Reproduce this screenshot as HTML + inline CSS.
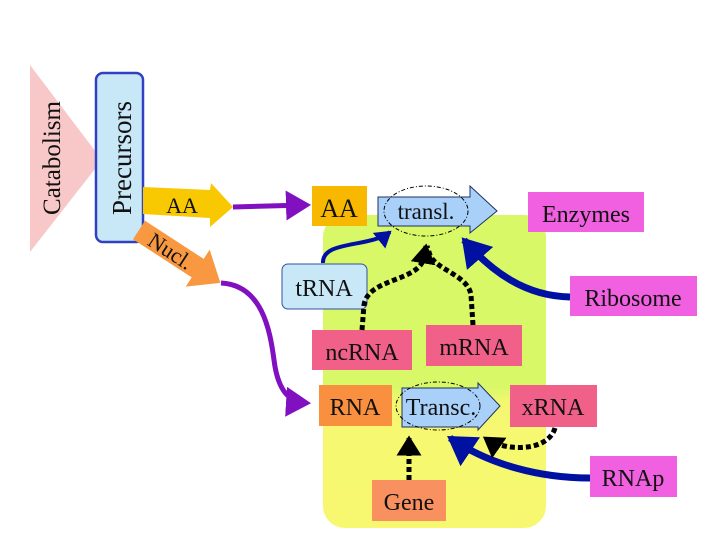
<!DOCTYPE html>
<html><head><style>
body{margin:0;width:720px;height:540px;background:#fff;overflow:hidden}
svg text{font-family:"Liberation Serif",serif;fill:#111}
</style></head><body>
<svg width="720" height="540" viewBox="0 0 720 540" xmlns="http://www.w3.org/2000/svg">
<defs>
<linearGradient id="g" x1="0" y1="0" x2="0" y2="1">
<stop offset="0" stop-color="#d8f868"/><stop offset="0.55" stop-color="#d8f868"/>
<stop offset="0.6" stop-color="#f4f870"/><stop offset="1" stop-color="#f8f870"/>
</linearGradient>
<marker id="pa" markerWidth="6" markerHeight="6" refX="4" refY="3" orient="auto" markerUnits="strokeWidth"><path d="M0,0 L5,3 L0,6z" fill="#8010c0"/></marker>
<marker id="ba" markerWidth="5" markerHeight="5" refX="3.5" refY="2.5" orient="auto" markerUnits="strokeWidth"><path d="M0,0 L4,2.5 L0,5z" fill="#0010a0"/></marker>
<marker id="ka" markerWidth="5" markerHeight="5" refX="3.5" refY="2.5" orient="auto" markerUnits="strokeWidth"><path d="M0,0 L4,2.5 L0,5z" fill="#000"/></marker>
</defs>
<rect x="323" y="215" width="223" height="313" rx="22" fill="url(#g)"/>
<polygon points="30,65 30,252 102,160" fill="#f8c8c8"/>
<text transform="translate(60,158) rotate(-90)" font-size="25" text-anchor="middle">Catabolism</text>
<rect x="96" y="73" width="47" height="169" rx="7" fill="#c8e8f8" stroke="#3040c0" stroke-width="2.5"/>
<text transform="translate(131,158) rotate(-90)" font-size="27" text-anchor="middle">Precursors</text>
<polygon points="143,187 210,190 211,183 233,207 210,227 210,218 143,214" fill="#f8c800"/>
<text x="182" y="213" font-size="22" text-anchor="middle">AA</text>
<g transform="translate(139,230) rotate(33)">
<polygon points="0,-11 70,-11 70,-22 97,0 70,22 70,11 0,11" fill="#f89840"/>
<text x="38" y="8" font-size="22" text-anchor="middle">Nucl.</text>
</g>
<path d="M233,207 L306,205" stroke="#8010c0" stroke-width="5" fill="none" marker-end="url(#pa)"/>
<path d="M221,283 C262,285 270,330 274,360 C278,392 290,402 306,403" stroke="#8010c0" stroke-width="5" fill="none" marker-end="url(#pa)"/>
<rect x="312" y="186" width="55" height="40" fill="#f8b800"/>
<text x="339" y="217" font-size="26" text-anchor="middle">AA</text>
<polygon points="378,197 470,197 470,186 497,211 470,233 470,226 378,226" fill="#a8d0f8" stroke="#203060" stroke-width="1"/>
<ellipse cx="426" cy="211" rx="42" ry="25" fill="none" stroke="#000" stroke-width="1" stroke-dasharray="4,2,1,2"/>
<text x="426" y="219" font-size="23" text-anchor="middle">transl.</text>
<rect x="528" y="192" width="116" height="40" fill="#f060e0"/>
<text x="586" y="222" font-size="24" text-anchor="middle">Enzymes</text>
<rect x="282" y="264" width="85" height="45" rx="6" fill="#c8e8f8" stroke="#3050a0" stroke-width="1"/>
<text x="324" y="296" font-size="24" text-anchor="middle">tRNA</text>
<rect x="570" y="276" width="127" height="40" fill="#f060e0"/>
<text x="633" y="306" font-size="24" text-anchor="middle">Ribosome</text>
<rect x="312" y="330" width="100" height="40" fill="#f06088"/>
<text x="362" y="360" font-size="24" text-anchor="middle">ncRNA</text>
<rect x="426" y="325" width="96" height="41" fill="#f06088"/>
<text x="474" y="355" font-size="24" text-anchor="middle">mRNA</text>
<rect x="319" y="385" width="73" height="41" fill="#f89040"/>
<text x="355" y="415" font-size="24" text-anchor="middle">RNA</text>
<polygon points="402,388 478,388 478,383 500,406 478,430 478,427 402,427" fill="#a8d0f8" stroke="#203060" stroke-width="1"/>
<ellipse cx="438" cy="406" rx="42" ry="24" fill="none" stroke="#000" stroke-width="1" stroke-dasharray="4,2,1,2"/>
<text x="441" y="415" font-size="24" text-anchor="middle">Transc.</text>
<rect x="510" y="385" width="87" height="42" fill="#f06088"/>
<text x="553" y="415" font-size="24" text-anchor="middle">xRNA</text>
<rect x="590" y="456" width="87" height="41" fill="#f060e0"/>
<text x="633" y="486" font-size="24" text-anchor="middle">RNAp</text>
<rect x="372" y="480" width="74" height="41" fill="#f89060"/>
<text x="409" y="510" font-size="24" text-anchor="middle">Gene</text>
<path d="M323,263 C322,240 370,248 390,232" stroke="#0010a0" stroke-width="4" fill="none" marker-end="url(#ba)"/>
<path d="M570,297 C525,296 492,272 464,240" stroke="#0010a0" stroke-width="7" fill="none" marker-end="url(#ba)"/>
<path d="M590,478 C540,478 490,465 450,438" stroke="#0010a0" stroke-width="7" fill="none" marker-end="url(#ba)"/>
<path d="M362,330 L364,305 C368,278 418,282 424,258 L426,246" stroke="#000" stroke-width="5" stroke-dasharray="5,3" fill="none" marker-end="url(#ka)"/>
<path d="M473,325 L471,295 C468,275 436,270 430,255 L427,246" stroke="#000" stroke-width="5" stroke-dasharray="5,3" fill="none"/>
<path d="M409,480 L409,438" stroke="#000" stroke-width="5" stroke-dasharray="5,3" fill="none" marker-end="url(#ka)"/>
<path d="M555,428 C548,452 505,452 485,438" stroke="#000" stroke-width="5" stroke-dasharray="5,3" fill="none" marker-end="url(#ka)"/>
</svg>
</body></html>
